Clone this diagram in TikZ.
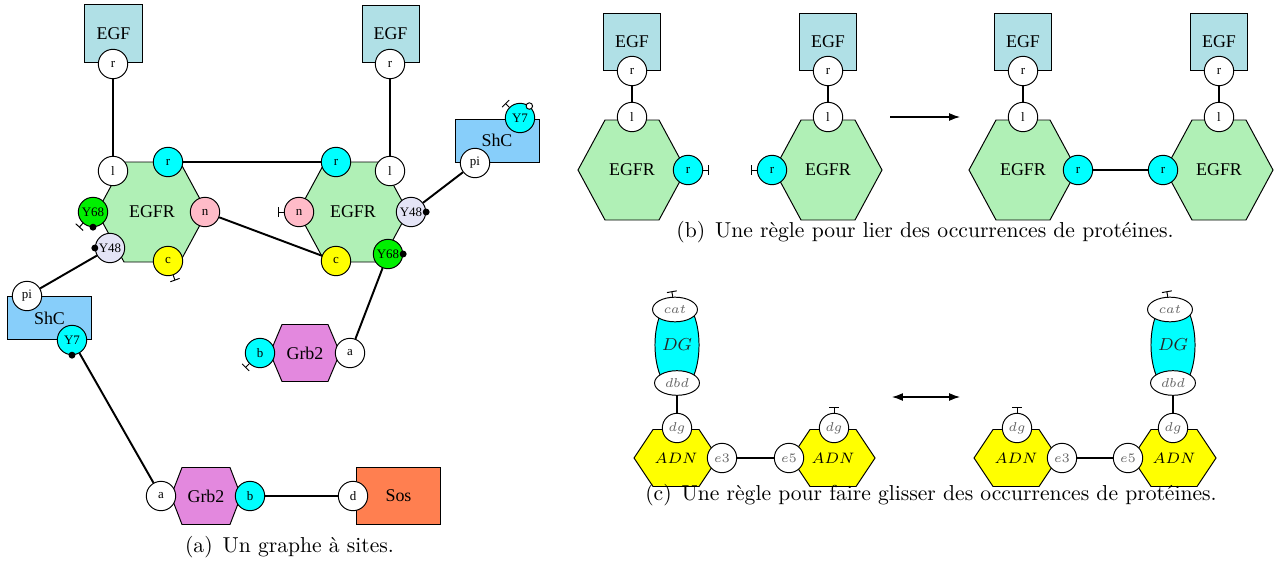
\documentclass[tikz,border=0pt]{standalone}
\usepackage{fontspec}
\newfontfamily\tms{Liberation Serif}
\usetikzlibrary{arrows.meta,shapes.geometric}
\definecolor{cEGF}{HTML}{B0E0E6}
\definecolor{cEGFR}{HTML}{B0F0B6}
\definecolor{cShC}{HTML}{87CEFA}
\definecolor{cGrb}{HTML}{E388DE}
\definecolor{cSos}{HTML}{FF7F50}
\definecolor{cPink}{HTML}{FFBBC8}
\definecolor{cLav}{HTML}{E4E4F6}
\definecolor{cGreen}{HTML}{00F000}
\definecolor{cCyan}{HTML}{00FFFF}
\definecolor{cYel}{HTML}{FFFF00}
\newcommand\hexa[9]{%
  \draw[outl,fill=#7] (#2-#4,#3) -- (#2-#5,#3-#6) -- (#2+#5,#3-#6) -- (#2+#4,#3) -- (#2+#5,#3+#6) -- (#2-#5,#3+#6) -- cycle;
  \node[#8] (#1) at (#2,#3) {#9};}
\newcommand\freetick[2]{\draw[free] (#1.#2) -- ++(#2:2.6pt);}
\newcommand\pdot[2]{\fill (#1.#2) circle[radius=1.6pt];}
\tikzset{
 outl/.style={draw=black,line width=0.45pt},
 sitec/.style={circle,outl,fill=white,minimum size=13.6pt,inner sep=0pt,font={\tms\fontsize{6}{7}\selectfont}},
 box/.style={rectangle,outl,inner sep=0pt,font={\tms\fontsize{8.3}{10}\selectfont}},
 lbl/.style={inner sep=0pt,font={\tms\fontsize{8.3}{10}\selectfont}},
 mlbl/.style={inner sep=0pt,font=\fontsize{7.5}{9}\selectfont},
 link/.style={line width=0.9pt},
 free/.style={line width=0.45pt,-{Bar[width=4.6pt]}},
 esite/.style={ellipse,outl,fill=white,minimum width=20.8pt,minimum height=11.4pt,inner sep=0pt,font=\fontsize{6}{7}\selectfont,text=black!60},
 csite/.style={sitec,font=\fontsize{6}{7}\selectfont,text=black!60},
 capt/.style={anchor=base,inner sep=0pt,font=\fontsize{10}{12}\selectfont},
}
\begin{document}
\begin{tikzpicture}[x=0.4629pt,y=-0.4629pt]
\useasboundingbox (0,0) rectangle (1276,561);
% ================= (a) =================
\node[box,fill=cEGF,minimum width=26.4pt,minimum height=26.4pt] (egfA) at (113.5,33.5) {EGF};
\node[sitec] (egfAr) at (113,64) {r};
\hexa{egfrA}{152}{212}{55}{28}{50}{cEGFR}{lbl}{EGFR}
\node[sitec] (egfrAl) at (113,171) {l};
\node[sitec,fill=cCyan] (egfrAr) at (168,162) {r};
\node[sitec,fill=cPink] (egfrAn) at (205,212) {n};
\node[sitec,fill=cYel] (egfrAc) at (168,261) {c};
\node[sitec,fill=cGreen] (egfrAy68) at (93,212) {Y68};
\node[sitec,fill=cLav] (egfrAy48) at (110,248) {Y48};
\pdot{egfrAy68}{-90}
\pdot{egfrAy48}{180}
\freetick{egfrAy68}{-132}
\freetick{egfrAc}{-70}

\node[box,fill=cEGF,minimum width=26.4pt,minimum height=26.4pt] (egfB) at (390.5,34) {EGF};
\node[sitec] (egfBr) at (390,64) {r};
\hexa{egfrB}{353}{212}{55}{28}{50}{cEGFR}{lbl}{EGFR}
\node[sitec,fill=cCyan] (egfrBr) at (336,162) {r};
\node[sitec] (egfrBl) at (390,171) {l};
\node[sitec,fill=cPink] (egfrBn) at (299,212) {n};
\node[sitec,fill=cLav] (egfrBy48) at (411,212) {Y48};
\node[sitec,fill=cYel] (egfrBc) at (336,261) {c};
\node[sitec,fill=cGreen] (egfrBy68) at (388,254) {Y68};
\pdot{egfrBy48}{0}
\pdot{egfrBy68}{0}
\freetick{egfrBn}{180}

\node[box,fill=cShC,minimum width=38.9pt,minimum height=19.9pt] (shcR) at (497,140.5) {ShC};
\node[sitec] (shcRpi) at (475,163) {pi};
\node[sitec,fill=cCyan] (shcRy7) at (520,118) {Y7};
\freetick{shcRy7}{135}
\draw[outl,fill=white] (shcRy7.52) circle[radius=1.5pt];

\node[box,fill=cShC,minimum width=39.3pt,minimum height=19.5pt] (shcL) at (49.5,318) {ShC};
\node[sitec] (shcLpi) at (27,296) {pi};
\node[sitec,fill=cCyan] (shcLy7) at (72,340) {Y7};
\pdot{shcLy7}{-90}

\hexa{grbA}{305}{353}{35}{23}{28.5}{cGrb}{lbl}{Grb2}
\node[sitec,fill=cCyan] (grbAb) at (260,353) {b};
\node[sitec] (grbAa) at (350,353) {a};
\freetick{grbAb}{-135}

\hexa{grbB}{206}{496}{35}{24}{28.5}{cGrb}{lbl}{Grb2}
\node[sitec] (grbBa) at (161,496) {a};
\node[sitec,fill=cCyan] (grbBb) at (250,496) {b};

\node[box,fill=cSos,minimum width=39.3pt,minimum height=26.4pt] (sos) at (398.5,495.5) {Sos};
\node[sitec] (sosd) at (353,496) {d};

\draw[link] (egfAr) -- (egfrAl);
\draw[link] (egfBr) -- (egfrBl);
\draw[link] (egfrAr) -- (egfrBr);
\draw[link] (egfrAn) -- (egfrBc);
\draw[link] (egfrBy48) -- (shcRpi);
\draw[link] (egfrBy68) -- (grbAa);
\draw[link] (egfrAy48) -- (shcLpi);
\draw[link] (shcLy7) -- (grbBa);
\draw[link] (grbBb) -- (sosd);

\node[capt] (capA) at (289.5,552) {(a)\hskip4.6pt Un graphe à sites.};

% ================= (b) =================
\foreach \i/\cx in {1/632,2/828,3/1023,4/1219}{
  \node[box,fill=cEGF,minimum width=26.6pt,minimum height=26.6pt] (egfb\i) at (\cx,42) {EGF};
  \node[sitec] (egfb\i r) at (\cx,71) {r};
  \hexa{egfrb\i}{\cx}{170}{54}{27}{50}{cEGFR}{lbl}{EGFR}
  \node[sitec] (egfrb\i l) at (\cx,117) {l};
  \draw[link] (egfb\i r) -- (egfrb\i l);
}
\node[sitec,fill=cCyan] (egfrb1r) at (688,170) {r};
\node[sitec,fill=cCyan] (egfrb2r) at (772,170) {r};
\node[sitec,fill=cCyan] (egfrb3r) at (1078,170) {r};
\node[sitec,fill=cCyan] (egfrb4r) at (1163,170) {r};
\freetick{egfrb1r}{0}
\freetick{egfrb2r}{180}
\draw[link] (egfrb3r) -- (egfrb4r);
\coordinate (arrBs) at (890,117);
\coordinate (arrBe) at (960,117);
\draw[line width=0.5pt,-{Latex[length=5pt,width=3.6pt]}] (arrBs) -- (arrBe);
\node[capt] (capB) at (925,237) {(b)\hskip4.6pt Une règle pour lier des occurrences de protéines.};

% ================= (c) =================
\foreach \s/\dx/\ax/\bx/\tx in {L/677/676/833/675, R/1173/1016/1174/1170}{
  \node[ellipse,outl,fill=cCyan,minimum width=20.4pt,minimum height=43.5pt,inner sep=0pt,font=\fontsize{8}{9}\selectfont,text=black!85] (dg\s) at (\dx,345) {$DG$};
  \node[esite] (cat\s) at (\tx,309.5) {$cat$};
  \node[esite] (dbd\s) at (\dx,383) {$dbd$};
  \hexa{adn\s1}{\ax}{458}{42}{23}{28.5}{cYel}{mlbl}{$ADN$}
  \hexa{adn\s2}{\bx}{458}{42}{23}{28.5}{cYel}{mlbl}{$ADN$}
  \freetick{cat\s}{100}
}
\node[csite] (dgL1) at (677,428) {$dg$};
\node[csite] (dgL2) at (834,428) {$dg$};
\node[csite] (e3L) at (722,458) {$e3$};
\node[csite] (e5L) at (789,458) {$e5$};
\node[csite] (dgR1) at (1017,428) {$dg$};
\node[csite] (dgR2) at (1173,428) {$dg$};
\node[csite] (e3R) at (1062,458) {$e3$};
\node[csite] (e5R) at (1128,458) {$e5$};
\freetick{dgL2}{90}
\freetick{dgR1}{90}
\draw[link] (dbdL) -- (dgL1);
\draw[link] (dbdR) -- (dgR2);
\draw[link] (e3L) -- (e5L);
\draw[link] (e3R) -- (e5R);
\coordinate (arrCs) at (892,397);
\coordinate (arrCe) at (960,397);
\draw[line width=0.5pt,{Latex[length=5pt,width=3.6pt]}-{Latex[length=5pt,width=3.6pt]}] (arrCs) -- (arrCe);
\node[capt] (capC) at (931,500) {(c)\hskip4.6pt Une règle pour faire glisser des occurrences de protéines.};
\end{tikzpicture}
\end{document}
